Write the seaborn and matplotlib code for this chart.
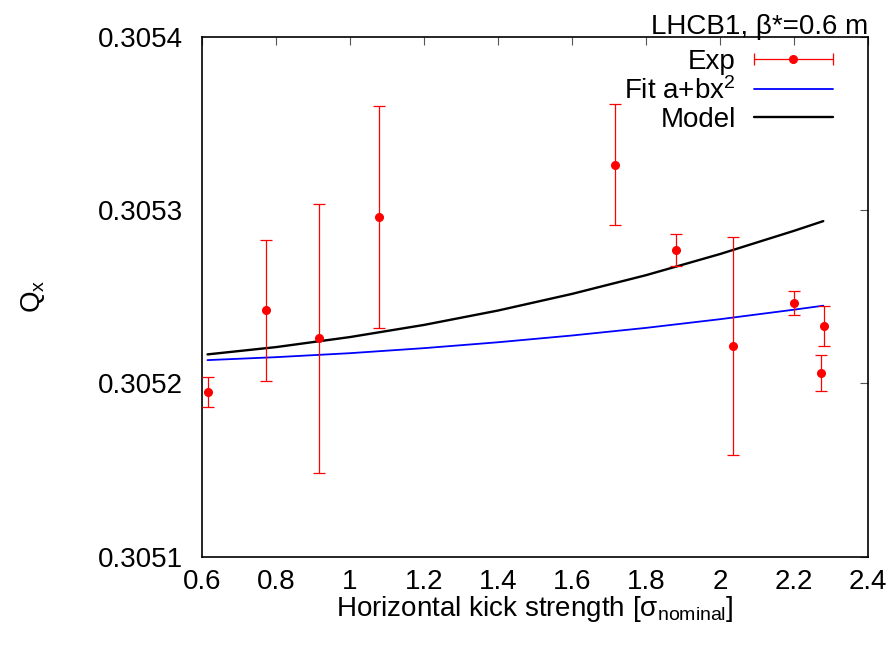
import numpy as np
import pandas as pd
import matplotlib
matplotlib.use("Agg")
import matplotlib.pyplot as plt
import seaborn as sns
from matplotlib.container import ErrorbarContainer
from matplotlib.legend_handler import HandlerErrorbar

# measured tune vs kick
kick = [0.615, 0.772, 0.917, 1.0775, 1.717, 1.881, 2.036, 2.200, 2.281, 2.274]
qx = [0.3051952, 0.3052421, 0.3052260, 0.3052960, 0.3053260,
      0.3052769, 0.3052217, 0.3052465, 0.3052332, 0.3052061]
qx_err = [0.0000087, 0.0000406, 0.0000777, 0.0000641, 0.0000349,
          0.0000094, 0.0000629, 0.0000068, 0.0000115, 0.0000104]

# curves
curve_x = [0.615, 0.8, 1.0, 1.2, 1.4, 1.6, 1.8, 2.0, 2.2, 2.279]
fit_q = [0.3052134, 0.3052151, 0.3052174, 0.3052203, 0.3052237,
         0.3052276, 0.3052320, 0.3052370, 0.3052425, 0.3052448]
model_q = [0.3052167, 0.3052209, 0.3052267, 0.3052337, 0.3052420,
           0.3052516, 0.3052624, 0.3052746, 0.3052880, 0.3052936]

xticks = [0.6, 0.8, 1, 1.2, 1.4, 1.6, 1.8, 2, 2.2, 2.4]
xticklabels = ["0.6", "0.8", "1", "1.2", "1.4", "1.6", "1.8", "2", "2.2", "2.4"]
yticks = [0.3051, 0.3052, 0.3053, 0.3054]
yticklabels = ["0.3051", "0.3052", "0.3053", "0.3054"]

sns.set_style("white")
plt.rcParams["font.family"] = ["Liberation Sans", "DejaVu Sans"]
plt.rcParams["mathtext.fontset"] = "custom"
plt.rcParams["mathtext.rm"] = "Liberation Sans"
plt.rcParams["mathtext.it"] = "Liberation Sans:italic"
plt.rcParams["font.size"] = 20
plt.rcParams["text.color"] = "black"
plt.rcParams["axes.labelcolor"] = "black"
plt.rcParams["xtick.labelcolor"] = "black"
plt.rcParams["ytick.labelcolor"] = "black"

fig = plt.figure(figsize=(8.96, 6.46), dpi=100)
ax = fig.add_axes([0.2254, 0.1383, 0.7434, 0.8049])

curves = pd.DataFrame({"x": curve_x, "fit": fit_q, "model": model_q})
sns.lineplot(data=curves, x="x", y="fit", color="#0000ff", lw=1.3, ax=ax)
sns.lineplot(data=curves, x="x", y="model", color="black", lw=1.7, ax=ax)

eb = ax.errorbar(kick, qx, yerr=qx_err, fmt="o", color="red", ms=5.5,
                 elinewidth=0.9, capsize=4.5, capthick=0.9, zorder=3)

ax.set_xlim(0.6, 2.4)
ax.set_ylim(0.3051, 0.3054)
ax.set_xticks(xticks)
ax.set_xticklabels(xticklabels)
ax.set_yticks(yticks)
ax.set_yticklabels(yticklabels)
ax.tick_params(axis="both", direction="in", length=6, width=0.8, color="#555555",
               top=True, right=True, labelsize=20)
ax.tick_params(axis="x", pad=9)
ax.tick_params(axis="y", pad=14)
for s in ax.spines.values():
    s.set_color("black")
    s.set_linewidth(1.2)

ax.set_xlabel(r"Horizontal kick strength [σ$_{\mathrm{nominal}}$]", fontsize=20, labelpad=-1)
ax.set_ylabel(r"Q$_{\mathrm{x}}$", fontsize=20, labelpad=36)
ax.set_title("LHCB1, β*=0.6 m", loc="right", fontsize=20, pad=2)

# legend: gnuplot style, text on the left, horizontal error bar sample
exp_proxy = ErrorbarContainer(eb.lines, has_xerr=True, has_yerr=False, label="Exp")
h_fit = plt.Line2D([], [], color="#0000ff", lw=1.3)
h_model = plt.Line2D([], [], color="black", lw=1.7)
ax.legend([exp_proxy, h_fit, h_model], ["Exp", r"Fit a+bx$^{2}$", "Model"],
          loc="upper right", bbox_to_anchor=(0.9474, 0.977), frameon=False,
          markerfirst=False, handlelength=2.85, handletextpad=0.65,
          labelspacing=0.08, borderpad=0, borderaxespad=0, fontsize=20,
          handler_map={ErrorbarContainer: HandlerErrorbar(xerr_size=1.42, numpoints=1)})

fig.savefig("out.png", dpi=100)
